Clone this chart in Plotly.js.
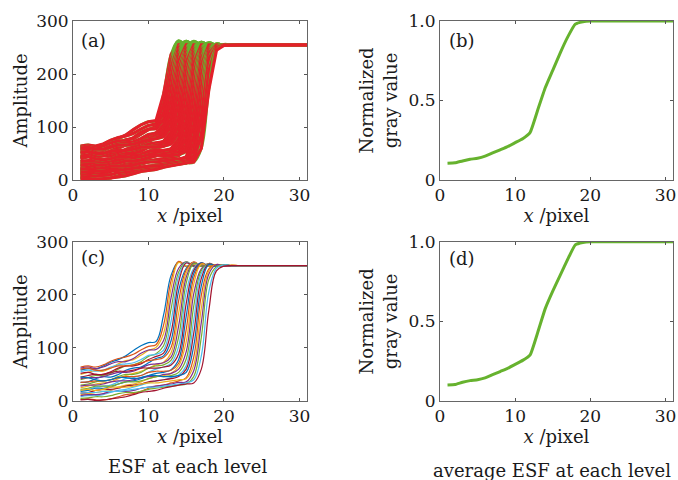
<!DOCTYPE html>
<html><head><meta charset="utf-8">
<script src="https://cdn.plot.ly/plotly-3.0.1.min.js"></script>
<style>html,body{margin:0;padding:0;background:#fff}#chart{width:678px;height:480px}</style>
</head><body><div id="chart"></div>
<script>
const xPixel = [1,2,3,4,5,6,7,8,9,10,11,12,13,14,15,16,17,18,19,20,21,22,23,24,25,26,27,28,29,30,31];

const esf01 = [58,61,60,66,73,78,85,95,104,110,112,162,237,262,253,256,255,255,255,255,255,255,255,255,255,255,255,255,255,255,255];
const esf02 = [64,66,64,68,75,80,83,88,96,103,106,143,227,263,254,256,255,255,255,255,255,255,255,255,255,255,255,255,255,255,255];
const esf03 = [50,54,57,56,62,70,76,78,86,95,101,127,213,261,254,256,255,255,255,255,255,255,255,255,255,255,255,255,255,255,255];
const esf04 = [62,64,61,64,70,74,74,80,90,96,97,114,195,250,262,254,256,255,255,255,255,255,255,255,255,255,255,255,255,255,255];
const esf05 = [40,44,48,48,52,60,66,68,74,84,89,104,174,243,262,253,256,255,255,255,255,255,255,255,255,255,255,255,255,255,255];
const esf06 = [55,58,56,58,64,68,70,72,78,86,88,96,151,235,261,254,256,255,255,255,255,255,255,255,255,255,255,255,255,255,255];
const esf07 = [45,48,50,50,55,62,66,66,70,78,84,90,130,224,260,254,256,255,255,255,255,255,255,255,255,255,255,255,255,255,255];
const esf08 = [35,36,42,46,45,50,58,62,64,72,80,85,114,208,250,261,254,256,255,255,255,255,255,255,255,255,255,255,255,255,255];
const esf09 = [60,62,58,58,62,66,66,68,72,76,78,82,101,189,247,262,254,256,255,255,255,255,255,255,255,255,255,255,255,255,255];
const esf10 = [25,28,32,34,36,42,48,52,56,62,68,73,91,166,241,261,254,256,255,255,255,255,255,255,255,255,255,255,255,255,255];
const esf11 = [42,44,44,46,50,54,54,56,62,68,70,72,83,142,233,260,254,256,255,255,255,255,255,255,255,255,255,255,255,255,255];
const esf12 = [30,32,36,38,40,46,50,50,54,62,66,68,77,121,222,259,254,256,255,255,255,255,255,255,255,255,255,255,255,255,255];
const esf13 = [20,22,26,28,30,36,42,44,48,54,60,64,71,103,205,250,260,254,256,255,255,255,255,255,255,255,255,255,255,255,255];
const esf14 = [52,54,50,50,54,56,56,58,62,62,62,64,68,89,184,246,260,254,256,255,255,255,255,255,255,255,255,255,255,255,255];
const esf15 = [18,20,24,24,26,32,36,38,42,48,52,54,59,78,160,240,260,254,256,255,255,255,255,255,255,255,255,255,255,255,255];
const esf16 = [35,36,38,38,40,44,46,46,48,54,56,56,58,71,135,232,259,254,256,255,255,255,255,255,255,255,255,255,255,255,255];
const esf17 = [12,14,16,18,20,26,30,32,36,42,46,48,52,66,112,220,258,254,256,255,255,255,255,255,255,255,255,255,255,255,255];
const esf18 = [28,30,30,32,36,38,38,40,44,46,46,50,52,60,93,202,249,259,254,256,255,255,255,255,255,255,255,255,255,255,255];
const esf19 = [22,24,28,28,28,32,36,36,38,42,46,46,48,54,79,179,246,259,254,256,255,255,255,255,255,255,255,255,255,255,255];
const esf20 = [8,10,10,12,16,20,22,26,30,34,38,40,44,49,67,153,240,258,254,256,255,255,255,255,255,255,255,255,255,255,255];
const esf21 = [15,16,20,22,22,24,28,30,32,36,38,40,42,46,60,128,231,258,254,256,255,255,255,255,255,255,255,255,255,255,255];
const esf22 = [45,44,40,38,40,44,44,42,44,48,48,46,46,48,54,104,217,257,254,256,255,255,255,255,255,255,255,255,255,255,255];
const esf23 = [3,4,2,2,4,8,12,14,18,24,28,30,34,38,44,83,199,249,257,254,256,255,255,255,255,255,255,255,255,255,255];
const esf24 = [20,22,20,22,26,26,26,28,32,34,34,36,38,40,42,68,175,245,257,254,256,255,255,255,255,255,255,255,255,255,255];
const esf25 = [10,12,12,14,18,18,18,20,24,26,28,30,32,35,36,57,148,239,257,254,255,255,255,255,255,255,255,255,255,255,255];
const esf26 = [5,6,8,8,10,14,16,16,18,22,24,26,28,30,32,46,120,229,253,256,255,255,255,255,255,255,255,255,255,255,255];
const esf27 = [15,16,16,18,18,18,20,22,24,26,26,28,30,32,34,40,85,206,250,256,255,255,255,255,255,255,255,255,255,255,255];
const esf28 = [2,3,1,2,4,6,8,12,16,18,20,24,27,30,32,34,60,171,245,254,255,255,255,255,255,255,255,255,255,255,255];

const avgEsfB = [0.105,0.108,0.12,0.13,0.137,0.15,0.17,0.19,0.21,0.235,0.26,0.30,0.44,0.58,0.69,0.80,0.90,0.98,0.995,1,1,1,1,1,1,1,1,1,1,1,1];
const avgEsfD = [0.10,0.103,0.118,0.128,0.133,0.145,0.165,0.185,0.205,0.23,0.255,0.29,0.43,0.58,0.69,0.79,0.89,0.98,0.995,1,1,1,1,1,1,1,1,1,1,1,1];

const saturation = 255;
const xTickVals = [0,10,20,30];
const ampTickVals = [0,100,200,300];
const normTickVals = [0,0.5,1];
const normTickText = ['0','0.5','1.0'];
const panelLabels = ['(a)','(b)','(c)','(d)'];
const captions = ['ESF at each level','average ESF at each level'];

const esfCurves = [esf01,esf02,esf03,esf04,esf05,esf06,esf07,esf08,esf09,esf10,esf11,esf12,esf13,esf14,
  esf15,esf16,esf17,esf18,esf19,esf20,esf21,esf22,esf23,esf24,esf25,esf26,esf27,esf28];
const lineColors = ['#0072BD','#D95319','#EDB120','#7E2F8E','#77AC30','#4DBEEE','#A2142F'];
const GREEN = '#66B22E';
const RED = '#E3202A';
const FONT = 'DejaVu Serif';
const TXT = '#1a1a1a';

const traces = [];
esfCurves.forEach(c => {
  traces.push({x:xPixel, y:c, xaxis:'x', yaxis:'y', mode:'lines', showlegend:false,
    line:{color:GREEN, width:2.8, shape:'spline', smoothing:1.1}, hoverinfo:'skip'});
  traces.push({x:xPixel, y:c.map(v => Math.min(v, saturation)), xaxis:'x', yaxis:'y', mode:'lines', showlegend:false,
    line:{color:RED, width:3.2}, hoverinfo:'skip'});
});
esfCurves.forEach((c,i) => {
  traces.push({x:xPixel, y:c, xaxis:'x3', yaxis:'y3', mode:'lines', showlegend:false,
    line:{color:lineColors[i % lineColors.length], width:1.2, shape:'spline', smoothing:1.1}, hoverinfo:'skip'});
});
traces.push({x:xPixel, y:avgEsfB, xaxis:'x2', yaxis:'y2', mode:'lines', showlegend:false,
  line:{color:GREEN, width:3, shape:'spline', smoothing:0.4}});
traces.push({x:xPixel, y:avgEsfD, xaxis:'x4', yaxis:'y4', mode:'lines', showlegend:false,
  line:{color:GREEN, width:3, shape:'spline', smoothing:0.4}});

const LEFT = [73/678, 307/678];
const RIGHT = [440/678, 673/678];
const TOP = [(480-180)/480, (480-21)/480];
const BOT = [(480-401)/480, (480-241.7)/480];

function xAx(domain, anchor) {
  return {domain, anchor, range:[0,31], tickvals:xTickVals, ticks:'inside', ticklen:3,
    tickcolor:'#555', showline:true, linecolor:'#666', linewidth:1, mirror:'ticks',
    showgrid:false, zeroline:false, tickfont:{size:17, color:TXT},
    title:{text:'<i>x</i> /pixel', font:{size:18, color:TXT}, standoff:2}};
}
function yAx(domain, anchor, norm) {
  const a = {domain, anchor, ticks:'inside', ticklen:3, tickcolor:'#555',
    showline:true, linecolor:'#666', linewidth:1, mirror:'ticks', showgrid:false, zeroline:false,
    tickfont:{size:17, color:TXT}};
  if (norm) {
    a.range = [0,1]; a.tickvals = normTickVals; a.ticktext = normTickText;
    a.title = {text:'Normalized<br>gray value', font:{size:18, color:TXT}, standoff:6};
  } else {
    a.range = [0,300]; a.tickvals = ampTickVals;
    a.title = {text:'Amplitude', font:{size:18, color:TXT}, standoff:3};
  }
  return a;
}

const labelPos = [[79,40],[447,40],[79,257],[447,258]];
const annotations = panelLabels.map((t,i) => ({text:t, xref:'paper', yref:'paper',
  x:labelPos[i][0]/678, y:(480-labelPos[i][1])/480, xanchor:'left', yanchor:'middle',
  showarrow:false, font:{size:18, color:TXT}}));
annotations.push({text:captions[0], xref:'paper', yref:'paper', x:187/678, y:(480-466.7)/480,
  xanchor:'center', yanchor:'middle', showarrow:false, font:{size:18, color:TXT}});
annotations.push({text:captions[1], xref:'paper', yref:'paper', x:551.7/678, y:(480-470)/480,
  xanchor:'center', yanchor:'middle', showarrow:false, font:{size:18, color:TXT}});

const layout = {
  width:678, height:480, margin:{l:0,r:0,t:0,b:0},
  paper_bgcolor:'#fff', plot_bgcolor:'#fff',
  font:{family:FONT, color:TXT},
  showlegend:false,
  xaxis:xAx(LEFT,'y'), yaxis:yAx(TOP,'x',false),
  xaxis2:xAx(RIGHT,'y2'), yaxis2:yAx(TOP,'x2',true),
  xaxis3:xAx(LEFT,'y3'), yaxis3:yAx(BOT,'x3',false),
  xaxis4:xAx(RIGHT,'y4'), yaxis4:yAx(BOT,'x4',true),
  annotations
};
Plotly.newPlot('chart', traces, layout, {displayModeBar:false, staticPlot:true});
</script>
</body></html>
